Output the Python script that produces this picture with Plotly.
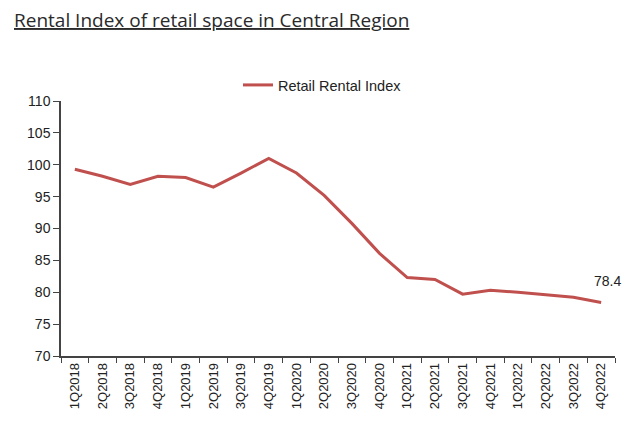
import plotly.graph_objects as go

quarters = [
    "1Q2018", "2Q2018", "3Q2018", "4Q2018",
    "1Q2019", "2Q2019", "3Q2019", "4Q2019",
    "1Q2020", "2Q2020", "3Q2020", "4Q2020",
    "1Q2021", "2Q2021", "3Q2021", "4Q2021",
    "1Q2022", "2Q2022", "3Q2022", "4Q2022",
]
rental_index = [
    99.3, 98.2, 96.9, 98.2,
    98.0, 96.5, 98.7, 101.0,
    98.7, 95.2, 90.8, 86.1,
    82.3, 82.0, 79.7, 80.3,
    80.0, 79.6, 79.2, 78.4,
]

red = "#C0504D"

# the page body adds an 8px margin, so the figure is drawn 8px smaller
W, H = 625, 418
ML, MR, MT, MB = 53, 18, 93, 70
plot_w = W - ML - MR
plot_h = H - MT - MB

fig = go.Figure()

fig.add_trace(go.Scatter(
    x=quarters,
    y=rental_index,
    mode="lines",
    line=dict(color=red, width=3),
    name="Retail Rental Index",
))

# label the latest value
fig.add_annotation(
    x=quarters[-1], y=rental_index[-1],
    text=f"{rental_index[-1]}",
    showarrow=False,
    xanchor="center", yanchor="bottom",
    xshift=6, yshift=11,
    font=dict(family="Liberation Sans, Arial", size=14, color="#222"),
)

# underlined heading at the top-left corner
fig.add_annotation(
    text="<u>Rental Index of retail space in Central Region</u>",
    xref="paper", yref="paper",
    x=(5 - ML) / plot_w, y=1 + (MT - 12) / plot_h,
    xanchor="left", yanchor="middle",
    borderpad=0,
    showarrow=False,
    font=dict(family="Open Sans", size=19, color="#2a2a2a"),
)

fig.update_layout(
    width=W,
    height=H,
    margin=dict(l=ML, r=MR, t=MT, b=MB),
    plot_bgcolor="white",
    paper_bgcolor="white",
    showlegend=True,
    legend=dict(
        orientation="h",
        x=0.472, xanchor="center",
        y=1 + 16 / plot_h, yanchor="middle",
        font=dict(family="Liberation Sans, Arial", size=14.5, color="#222"),
        itemwidth=30,
    ),
)

fig.update_xaxes(
    type="category",
    range=[-0.5, len(quarters) - 0.5],
    automargin=False,
    tickangle=-90,
    tickson="boundaries",
    ticks="outside",
    ticklen=5,
    tickcolor="#444",
    showline=True,
    linecolor="#444",
    linewidth=1.5,
    showgrid=False,
    tickfont=dict(family="Liberation Sans, Arial", size=13, color="#222"),
)
fig.update_yaxes(
    automargin=False,
    range=[70, 110],
    dtick=5,
    ticks="outside",
    ticklen=6,
    tickcolor="#444",
    showline=True,
    linecolor="#444",
    linewidth=1.5,
    showgrid=False,
    zeroline=False,
    tickfont=dict(family="Liberation Sans, Arial", size=14, color="#222"),
)

fig.write_html("out.html")
